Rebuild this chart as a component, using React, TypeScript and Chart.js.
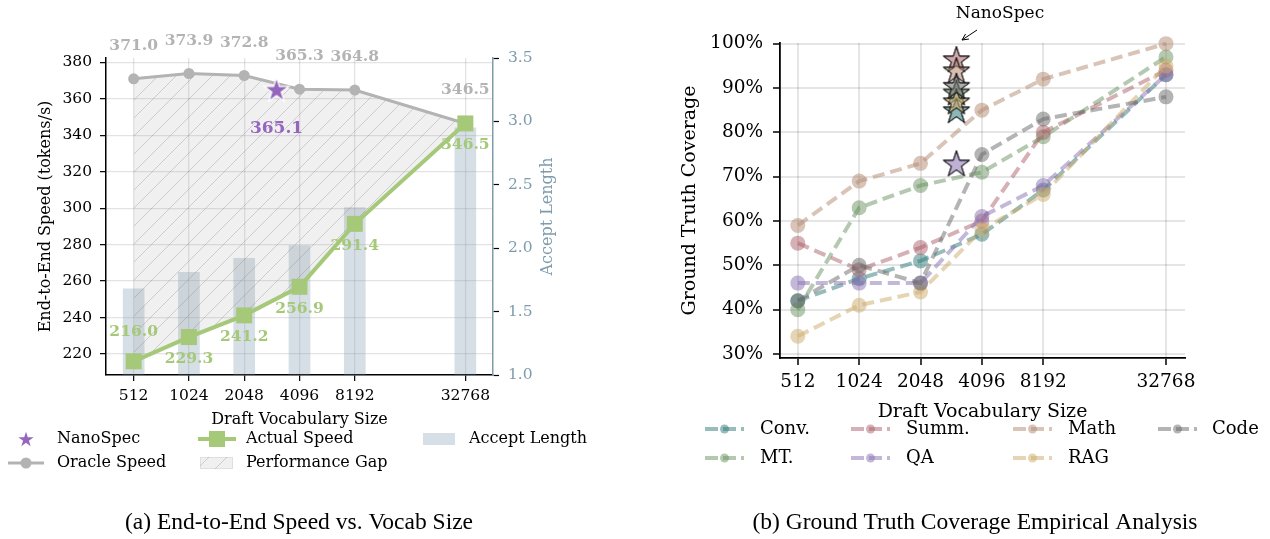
import React, { useEffect, useRef } from 'react';
import { Chart, registerables } from 'chart.js';

Chart.register(...registerables);

// ---------------- data ----------------
const VOCAB_SIZES = [512, 1024, 2048, 4096, 8192, 32768];
const ORACLE_SPEED = [371.0, 373.9, 372.8, 365.3, 364.8, 346.5];
const ACTUAL_SPEED = [216.0, 229.3, 241.2, 256.9, 291.4, 346.5];
const ACCEPT_LENGTH = [1.68, 1.81, 1.92, 2.02, 2.32, 2.95];
const NANOSPEC_VOCAB = 3072;
const NANOSPEC_SPEED = 365.1;
const SPEED_TICKS = [220, 240, 260, 280, 300, 320, 340, 360, 380];
const ACCEPT_TICKS = [1.0, 1.5, 2.0, 2.5, 3.0, 3.5];

const TASK_NAMES = ['Conv.', 'MT.', 'Summ.', 'QA', 'Math', 'RAG', 'Code'];
const COVERAGE_CONV = [42, 47, 51, 57, 67, 93];
const COVERAGE_MT = [40, 63, 68, 71, 79, 97];
const COVERAGE_SUMM = [55, 49, 54, 60, 80, 94];
const COVERAGE_QA = [46, 46, 46, 61, 68, 93];
const COVERAGE_MATH = [59, 69, 73, 85, 92, 100];
const COVERAGE_RAG = [34, 41, 44, 58, 66, 95];
const COVERAGE_CODE = [42, 50, 46, 75, 83, 88];
const NANOSPEC_COVERAGE = [85, 89, 96.5, 73, 94, 87, 90.5];
const COVERAGE_TICKS = [30, 40, 50, 60, 70, 80, 90, 100];

// ---------------- styles ----------------
const TASK_COLORS = ['#2f7a7a', '#699361', '#ac6169', '#8a71b4', '#b48a71', '#cdac69', '#696969'];
const TASK_ALPHA = 0.5;
const SERIF = 'DejaVu Serif';
const CAPTION_FONT = '"Liberation Serif", "Times New Roman", serif';
const ACC_COLOR = '#7f9cad';
const ORACLE_COLOR = '#b3b3b3';
const ACTUAL_COLOR = '#a5c879';
const NANO_COLOR = '#9467bd';
const BAR_COLOR = 'rgba(127,156,173,0.32)';

Chart.defaults.font.family = SERIF;

const lx = (v: number) => Math.log2(v);

function rgba(hex: string, a: number) {
  const n = parseInt(hex.slice(1), 16);
  return `rgba(${(n >> 16) & 255},${(n >> 8) & 255},${n & 255},${a})`;
}

function makeStar(rOuter: number, fill: string, stroke: string, lw: number) {
  const pad = Math.ceil(lw * 2) + 2;
  const size = Math.ceil(rOuter * 2) + pad * 2;
  const c = document.createElement('canvas');
  c.width = size;
  c.height = size;
  const g = c.getContext('2d')!;
  const cx = size / 2;
  const cy = size / 2 + rOuter * 0.09;
  const rIn = rOuter * 0.381966;
  g.beginPath();
  for (let k = 0; k < 10; k++) {
    const a = -Math.PI / 2 + (k * Math.PI) / 5;
    const r = k % 2 === 0 ? rOuter : rIn;
    const px = cx + r * Math.cos(a);
    const py = cy + r * Math.sin(a);
    if (k === 0) g.moveTo(px, py);
    else g.lineTo(px, py);
  }
  g.closePath();
  if (lw > 0) {
    g.lineWidth = lw;
    g.strokeStyle = stroke;
    g.lineJoin = 'miter';
    g.stroke();
  }
  g.fillStyle = fill;
  g.fill();
  if (lw > 0 && stroke !== '#ffffff') {
    g.stroke();
  }
  return c;
}

function makeHatch(ctx: CanvasRenderingContext2D) {
  const s = 18;
  const c = document.createElement('canvas');
  c.width = s;
  c.height = s;
  const g = c.getContext('2d')!;
  g.fillStyle = 'rgba(128,128,128,0.12)';
  g.fillRect(0, 0, s, s);
  g.strokeStyle = 'rgba(120,120,120,0.3)';
  g.lineWidth = 1;
  g.beginPath();
  g.moveTo(0, s);
  g.lineTo(s, 0);
  g.moveTo(-s / 2, s / 2);
  g.lineTo(s / 2, -s / 2);
  g.moveTo(s / 2, s * 1.5);
  g.lineTo(s * 1.5, s / 2);
  g.stroke();
  return ctx.createPattern(c, 'repeat')!;
}

function buildLeft(canvas: HTMLCanvasElement) {
  const ctx = canvas.getContext('2d')!;
  const hatch = makeHatch(ctx);
  const star = makeStar(11, NANO_COLOR, '#ffffff', 2.5);
  const legendStar = makeStar(8, NANO_COLOR, NANO_COLOR, 0);
  const TICK_FONT = { family: SERIF, size: 15.5 };
  const TITLE_FONT = { family: SERIF, size: 16 };

  const plugin = {
    id: 'leftDecor',
    afterDatasetsDraw(chart: any) {
      const c = chart.ctx as CanvasRenderingContext2D;
      c.save();
      c.textAlign = 'center';
      c.textBaseline = 'middle';
      c.font = `bold 15.5px "${SERIF}"`;
      c.fillStyle = ORACLE_COLOR;
      chart.getDatasetMeta(1).data.forEach((p: any, i: number) => {
        c.fillText(ORACLE_SPEED[i].toFixed(1), p.x, p.y - 33);
      });
      c.fillStyle = ACTUAL_COLOR;
      chart.getDatasetMeta(2).data.forEach((p: any, i: number) => {
        c.fillText(ACTUAL_SPEED[i].toFixed(1), p.x, i === 0 ? p.y - 29 : p.y + 22);
      });
      const ns = chart.getDatasetMeta(0).data[0];
      c.font = `bold 17px "${SERIF}"`;
      c.fillStyle = NANO_COLOR;
      c.fillText(NANOSPEC_SPEED.toFixed(1), ns.x, ns.y + 39);
      c.restore();
    },
    afterDraw(chart: any) {
      const c = chart.ctx as CanvasRenderingContext2D;
      const area = chart.chartArea;
      c.save();
      // right axis title (reads bottom-to-top)
      c.save();
      c.translate(548, (area.top + area.bottom) / 2);
      c.rotate(-Math.PI / 2);
      c.fillStyle = ACC_COLOR;
      c.font = `16px "${SERIF}"`;
      c.textAlign = 'center';
      c.textBaseline = 'middle';
      c.fillText('Accept Length', 0, 0);
      c.restore();

      const r1 = 439;
      const r2 = 463;
      // NanoSpec
      c.drawImage(legendStar, 26 - legendStar.width / 2, r1 - legendStar.height / 2);
      // Oracle
      c.strokeStyle = ORACLE_COLOR;
      c.lineWidth = 3;
      c.beginPath();
      c.moveTo(8, r2);
      c.lineTo(44, r2);
      c.stroke();
      c.fillStyle = ORACLE_COLOR;
      c.beginPath();
      c.arc(26, r2, 5.5, 0, Math.PI * 2);
      c.fill();
      // Actual
      c.strokeStyle = ACTUAL_COLOR;
      c.lineWidth = 4;
      c.beginPath();
      c.moveTo(198, r1);
      c.lineTo(236, r1);
      c.stroke();
      c.fillStyle = ACTUAL_COLOR;
      c.fillRect(217 - 8, r1 - 8, 16, 16);
      // Performance gap
      c.fillStyle = '#fff';
      c.fillRect(200, r2 - 6, 33, 12);
      c.fillStyle = hatch;
      c.fillRect(200, r2 - 6, 33, 12);
      c.strokeStyle = 'rgba(128,128,128,0.15)';
      c.lineWidth = 1;
      c.strokeRect(200.5, r2 - 5.5, 32, 11);
      // Accept length
      c.fillStyle = BAR_COLOR;
      c.fillRect(423, r1 - 6, 32, 12);
      // texts
      c.fillStyle = '#000';
      c.font = `16px "${SERIF}"`;
      c.textAlign = 'left';
      c.textBaseline = 'middle';
      c.fillText('NanoSpec', 57, r1);
      c.fillText('Oracle Speed', 57, r2);
      c.fillText('Actual Speed', 246, r1);
      c.fillText('Performance Gap', 246, r2);
      c.fillText('Accept Length', 469, r1);
      // caption
      c.font = `23.5px ${CAPTION_FONT}`;
      c.textAlign = 'center';
      c.fillText('(a) End-to-End Speed vs. Vocab Size', 299, 523);
      c.restore();
    },
  };

  return new Chart(ctx, {
    type: 'line',
    data: {
      datasets: [
        {
          label: 'NanoSpec',
          data: [{ x: lx(NANOSPEC_VOCAB), y: NANOSPEC_SPEED }],
          showLine: false,
          pointStyle: star as any,
          pointRadius: 11,
          order: 0,
          clip: false as any,
        },
        {
          label: 'Oracle Speed',
          data: VOCAB_SIZES.map((v, i) => ({ x: lx(v), y: ORACLE_SPEED[i] })),
          borderColor: ORACLE_COLOR,
          backgroundColor: hatch as any,
          borderWidth: 3,
          pointRadius: 5.5,
          pointBorderWidth: 0,
          pointBackgroundColor: ORACLE_COLOR,
          fill: { target: 2, above: hatch as any, below: hatch as any },
          order: 2,
          clip: false as any,
        },
        {
          label: 'Actual Speed',
          data: VOCAB_SIZES.map((v, i) => ({ x: lx(v), y: ACTUAL_SPEED[i] })),
          borderColor: ACTUAL_COLOR,
          borderWidth: 4,
          pointStyle: 'rect',
          pointRadius: 11.3,
          pointBorderWidth: 0,
          pointBackgroundColor: ACTUAL_COLOR,
          order: 1,
          clip: false as any,
        },
        {
          type: 'bar',
          label: 'Accept Length',
          yAxisID: 'y1',
          data: VOCAB_SIZES.map((v, i) => ({ x: lx(v), y: ACCEPT_LENGTH[i] })),
          backgroundColor: BAR_COLOR,
          barThickness: 21,
          base: 1,
          order: 3,
        } as any,
      ],
    },
    options: {
      responsive: false,
      animation: false,
      devicePixelRatio: 1,
      layout: { padding: { left: 32, right: 74, top: 58, bottom: 106 } },
      plugins: { legend: { display: false }, tooltip: { enabled: false } },
      scales: {
        x: {
          type: 'linear',
          offset: false,
          min: 8.5,
          max: 15.5,
          afterBuildTicks: (s: any) => {
            s.ticks = VOCAB_SIZES.map((v) => ({ value: lx(v) }));
          },
          afterFit: (s: any) => {
            s.height = 58;
          },
          ticks: {
            font: TICK_FONT,
            color: '#000',
            padding: 6,
            maxRotation: 0,
            autoSkip: false,
            callback: (v: any) => String(Math.round(Math.pow(2, Number(v)))),
          },
          grid: { offset: false, color: 'rgba(0,0,0,0.11)', lineWidth: 1.3, tickLength: 6, tickColor: '#000', tickWidth: 1.2 },
          border: { color: '#000', width: 1.5 },
          title: { display: true, text: 'Draft Vocabulary Size', font: TITLE_FONT, color: '#000', padding: { top: 4, bottom: 4 } },
        },
        y: {
          type: 'linear',
          position: 'left',
          min: 208.5,
          max: 382.4,
          afterBuildTicks: (s: any) => {
            s.ticks = SPEED_TICKS.map((v) => ({ value: v }));
          },
          afterFit: (s: any) => {
            s.width = 74;
          },
          ticks: { font: TICK_FONT, color: '#000', padding: 8 },
          grid: { color: 'rgba(0,0,0,0.11)', lineWidth: 1.3, tickLength: 6, tickColor: '#000', tickWidth: 1.2 },
          border: { color: '#000', width: 1.5 },
          title: { display: true, text: 'End-to-End Speed (tokens/s)', font: TITLE_FONT, color: '#000', padding: { top: 4, bottom: 4 } },
        },
        y1: {
          type: 'linear',
          position: 'right',
          min: 1.0,
          max: 3.5,
          afterBuildTicks: (s: any) => {
            s.ticks = ACCEPT_TICKS.map((v) => ({ value: v }));
          },
          afterFit: (s: any) => {
            s.width = 68;
          },
          ticks: { font: TICK_FONT, color: ACC_COLOR, padding: 9, callback: (v: any) => Number(v).toFixed(1) },
          grid: { drawOnChartArea: false, tickLength: 6, tickColor: '#000', tickWidth: 1.2 },
          border: { color: ACC_COLOR, width: 1.5 },
          title: { display: false },
        },
      },
    } as any,
    plugins: [plugin],
  });
}

function buildRight(canvas: HTMLCanvasElement) {
  const ctx = canvas.getContext('2d')!;
  const series = [COVERAGE_CONV, COVERAGE_MT, COVERAGE_SUMM, COVERAGE_QA, COVERAGE_MATH, COVERAGE_RAG, COVERAGE_CODE];
  const stars = TASK_COLORS.map((c) => makeStar(13.8, rgba(c, 0.55), '#111', 1));
  const TICK_FONT = { family: SERIF, size: 18.5 };
  const TITLE_FONT = { family: SERIF, size: 19 };

  const datasets: any[] = series.map((s, i) => ({
    label: TASK_NAMES[i],
    data: VOCAB_SIZES.map((v, j) => ({ x: lx(v), y: s[j] })),
    borderColor: rgba(TASK_COLORS[i], TASK_ALPHA),
    backgroundColor: rgba(TASK_COLORS[i], TASK_ALPHA),
    borderWidth: 4,
    borderDash: [12, 6],
    borderCapStyle: 'butt',
    pointRadius: 7.5,
    pointBorderWidth: 0,
    pointBackgroundColor: rgba(TASK_COLORS[i], TASK_ALPHA),
    fill: false,
    order: TASK_NAMES.length - i + 1,
    clip: false,
  }));
  datasets.push({
    label: 'NanoSpec',
    data: NANOSPEC_COVERAGE.map((y) => ({ x: lx(NANOSPEC_VOCAB), y })),
    showLine: false,
    pointStyle: stars,
    pointRadius: 13.8,
    order: 0,
    clip: false,
  });

  const legendX = [
    [70, 125],
    [216, 271],
    [378, 433],
    [523, 577],
  ];
  const plugin = {
    id: 'rightDecor',
    afterDraw(chart: any) {
      const c = chart.ctx as CanvasRenderingContext2D;
      c.save();
      // annotation
      c.fillStyle = '#000';
      c.font = `17px "${SERIF}"`;
      c.textAlign = 'center';
      c.textBaseline = 'middle';
      c.fillText('NanoSpec', 365, 14);
      const ax0 = 342, ay0 = 30, ax1 = 327, ay1 = 40;
      c.strokeStyle = '#000';
      c.lineWidth = 1;
      c.beginPath();
      c.moveTo(ax0, ay0);
      c.lineTo(ax1, ay1);
      const ang = Math.atan2(ay1 - ay0, ax1 - ax0);
      const hl = 7;
      c.moveTo(ax1 - hl * Math.cos(ang - 0.45), ay1 - hl * Math.sin(ang - 0.45));
      c.lineTo(ax1, ay1);
      c.lineTo(ax1 - hl * Math.cos(ang + 0.45), ay1 - hl * Math.sin(ang + 0.45));
      c.stroke();
      // legend (column-major, 2 rows)
      const rows = [429, 458];
      TASK_NAMES.forEach((name, i) => {
        const col = Math.floor(i / 2);
        const row = i % 2;
        const [hx, tx] = legendX[col];
        const y = rows[row];
        const col0 = rgba(TASK_COLORS[i], TASK_ALPHA);
        c.strokeStyle = col0;
        c.lineWidth = 4;
        c.setLineDash([13, 5]);
        c.beginPath();
        c.moveTo(hx, y);
        c.lineTo(hx + 39, y);
        c.stroke();
        c.setLineDash([]);
        c.fillStyle = col0;
        c.beginPath();
        c.arc(hx + 19.5, y, 4.5, 0, Math.PI * 2);
        c.fill();
        c.fillStyle = '#000';
        c.font = `18px "${SERIF}"`;
        c.textAlign = 'left';
        c.fillText(name, tx, y);
      });
      // caption
      c.fillStyle = '#000';
      c.font = `23.5px ${CAPTION_FONT}`;
      c.textAlign = 'center';
      c.fillText('(b) Ground Truth Coverage Empirical Analysis', 340, 523);
      c.restore();
    },
  };

  return new Chart(ctx, {
    type: 'line',
    data: { datasets },
    options: {
      responsive: false,
      animation: false,
      devicePixelRatio: 1,
      layout: { padding: { left: 40, right: 85, top: 43, bottom: 112 } },
      plugins: { legend: { display: false }, tooltip: { enabled: false } },
      scales: {
        x: {
          type: 'linear',
          offset: false,
          min: 8.71,
          max: 15.31,
          afterBuildTicks: (s: any) => {
            s.ticks = VOCAB_SIZES.map((v) => ({ value: lx(v) }));
          },
          afterFit: (s: any) => {
            s.height = 69;
          },
          ticks: {
            font: TICK_FONT,
            color: '#000',
            padding: 6,
            maxRotation: 0,
            autoSkip: false,
            callback: (v: any) => String(Math.round(Math.pow(2, Number(v)))),
          },
          grid: { color: 'rgba(0,0,0,0.1)', lineWidth: 2, tickLength: 7, tickColor: '#000', tickWidth: 1.5 },
          border: { color: '#000', width: 1.8 },
          title: { display: true, text: 'Draft Vocabulary Size', font: TITLE_FONT, color: '#000', padding: { top: 4, bottom: 4 } },
        },
        y: {
          type: 'linear',
          min: 29.1,
          max: 100.15,
          afterBuildTicks: (s: any) => {
            s.ticks = COVERAGE_TICKS.map((v) => ({ value: v }));
          },
          afterFit: (s: any) => {
            s.width = 105;
          },
          ticks: { font: TICK_FONT, color: '#000', padding: 10, callback: (v: any) => `${v}%` },
          grid: { color: 'rgba(0,0,0,0.1)', lineWidth: 2, tickLength: 7, tickColor: '#000', tickWidth: 1.5 },
          border: { color: '#000', width: 1.8 },
          title: { display: true, text: 'Ground Truth Coverage', font: TITLE_FONT, color: '#000', padding: { top: 4, bottom: 4 } },
        },
      },
    } as any,
    plugins: [plugin],
  });
}

export default function App() {
  const leftRef = useRef<HTMLCanvasElement>(null);
  const rightRef = useRef<HTMLCanvasElement>(null);

  useEffect(() => {
    const c1 = buildLeft(leftRef.current!);
    const c2 = buildRight(rightRef.current!);
    return () => {
      c1.destroy();
      c2.destroy();
    };
  }, []);

  return (
    <div style={{ position: 'fixed', left: 0, top: 0, width: 1270, height: 539, background: '#fff', overflow: 'hidden' }}>
      <canvas
        ref={leftRef}
        width={635}
        height={539}
        style={{ position: 'absolute', left: 0, top: 0, width: 635, height: 539 }}
      />
      <canvas
        ref={rightRef}
        width={635}
        height={539}
        style={{ position: 'absolute', left: 635, top: 0, width: 635, height: 539 }}
      />
    </div>
  );
}
